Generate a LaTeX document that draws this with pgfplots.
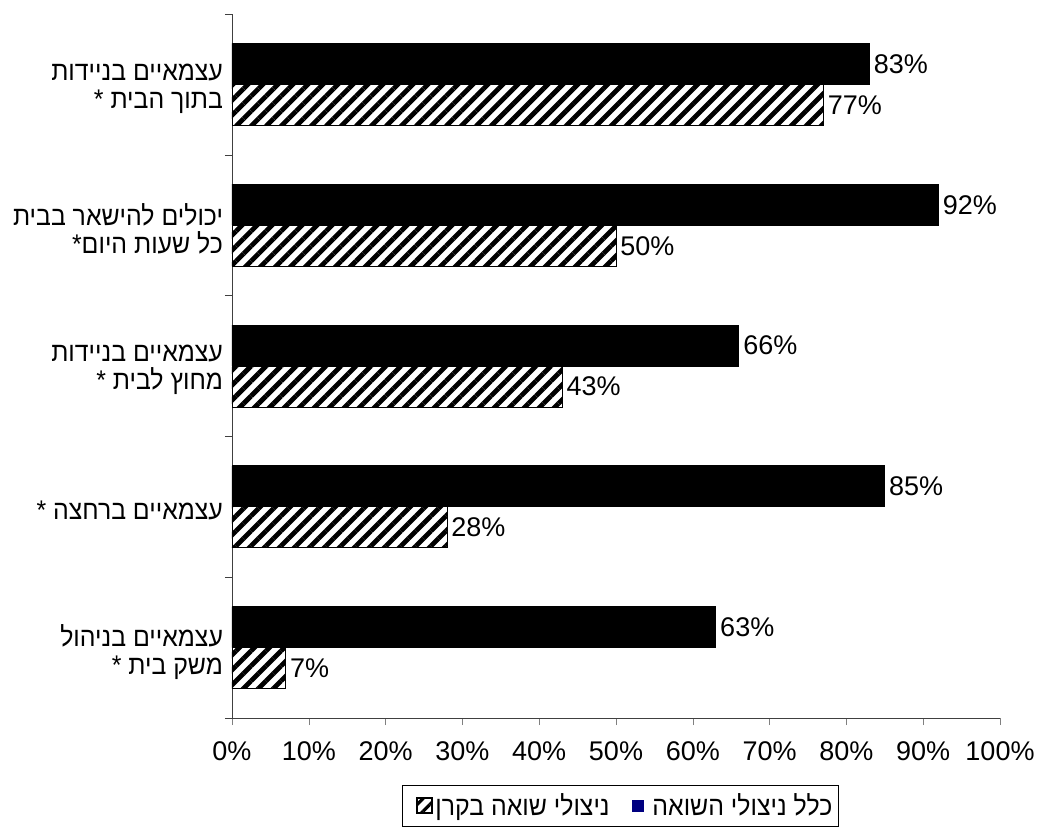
\documentclass[border=0pt]{standalone}
\usepackage{fontspec}
\setmainfont{Liberation Sans}
\newfontfamily\hebfont[Script=Hebrew,FakeStretch=0.92]{Liberation Sans}
\TeXXeTstate=1
\usepackage{pgfplots}
\pgfplotsset{compat=1.18}
\usetikzlibrary{patterns.meta}
\definecolor{navy}{RGB}{0,0,128}
\tikzset{hatch/.style={pattern={Lines[angle=45,distance=5.3pt,line width=2.4pt]},pattern color=black}}
\begin{document}
\begin{tikzpicture}
\path[use as bounding box] (-116pt,-54.5pt) rectangle (402.5pt,359pt);
\begin{axis}[
  at={(0,0)}, anchor=south west,
  scale only axis, width=384pt, height=352pt,
  xbar, bar width=20.5pt,
  xmin=0, xmax=100, ymin=-0.5, ymax=4.5,
  axis x line*=bottom, axis y line*=left,
  axis line style={draw=black!75},
  xtick={0,10,...,100},
  xticklabel={\pgfmathprintnumber{\tick}\%},
  /pgf/number format/assume math mode=true,
  tick align=outside,
  major tick length=3.5pt,
  ytick={0,1,2,3,4},
  yticklabels={
    {{\hebfont\beginR עצמאיים בניהול\endR}\\{\hebfont\beginR משק בית *\endR}},
    {{\hebfont\beginR עצמאיים ברחצה *\endR}},
    {{\hebfont\beginR עצמאיים בניידות\endR}\\{\hebfont\beginR מחוץ לבית *\endR}},
    {{\hebfont\beginR יכולים להישאר בבית\endR}\\{\hebfont\beginR כל שעות היום*\endR}},
    {{\hebfont\beginR עצמאיים בניידות\endR}\\{\hebfont\beginR בתוך הבית *\endR}}
  },
  major y tick style={draw=none},
  extra y ticks={-0.5,0.5,1.5,2.5,3.5,4.5},
  extra y tick labels={},
  extra y tick style={major y tick style={draw=black!75}},
  yticklabel style={align=right, font=\fontsize{13.5}{14}\selectfont, xshift=2.5pt, yshift=-2pt},
  xticklabel style={font=\fontsize{13.5}{16}\selectfont, yshift=-5pt},
  nodes near coords={\pgfmathprintnumber{\pgfplotspointmeta}\%},
  nodes near coords style={font=\fontsize{13.5}{16}\selectfont, inner sep=2pt},
  legend style={at={(axis description cs:0.2214,-0.095)}, anchor=north west,
    draw=black, legend columns=2, font=\fontsize{13.5}{16}\selectfont,
    inner xsep=2pt, nodes={inner xsep=1pt},
    /tikz/every even column/.append style={column sep=10pt}},
]
\addplot[fill=black, draw=black, bar shift=10.25pt, forget plot] coordinates {
  (63,0) (85,1) (66,2) (92,3) (83,4)};
\addplot[hatch, draw=black, bar shift=-10.25pt, forget plot] coordinates {
  (7,0) (28,1) (43,2) (50,3) (77,4)};
\addlegendimage{legend image code/.code={\path (0pt,0pt); \draw[draw=black,line width=0.9pt,pattern={Lines[angle=45,distance=4.5pt,line width=1.6pt]}] (5pt,-3.7pt) rectangle (12.5pt,3.7pt);}}
\addlegendentry{{\hebfont\beginR ניצולי שואה בקרן\endR}}
\addlegendimage{legend image code/.code={\path (0pt,0pt); \fill[navy] (0pt,-2.75pt) rectangle (5.5pt,2.75pt); \path (9pt,0pt);}}
\addlegendentry{{\hebfont\beginR כלל ניצולי השואה\endR}}
\end{axis}
\end{tikzpicture}
\end{document}
